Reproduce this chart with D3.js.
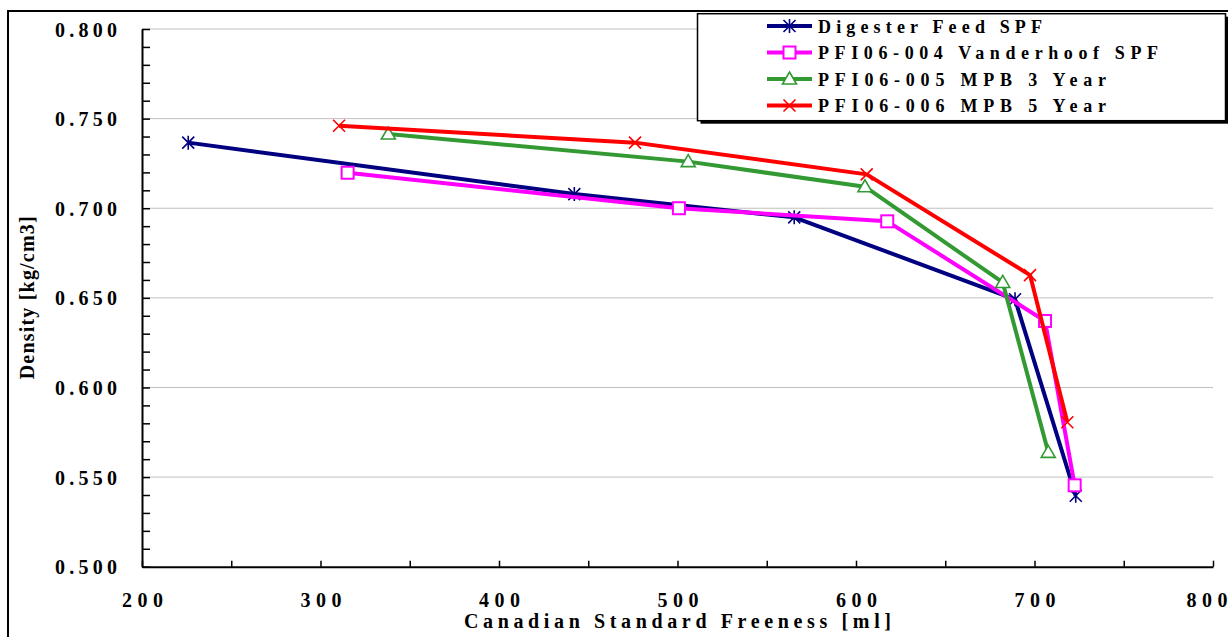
<!DOCTYPE html>
<html>
<head>
<meta charset="utf-8">
<script src="https://cdn.jsdelivr.net/npm/d3@7/dist/d3.min.js"></script>
<style>
  body { margin: 0; background: #fff; }
  svg { display: block; font-family: "Liberation Serif", "Times New Roman", serif; font-weight: bold; }
</style>
</head>
<body>
<div id="chart"></div>
<script>
var W = 1228, H = 637;

// data (freeness in ml, density in kg/cm3)
var seriesNames = ["Digester Feed SPF", "PFI06-004 Vanderhoof SPF", "PFI06-005 MPB 3 Year", "PFI06-006 MPB 5 Year"];
var digesterCsf = [225.9, 442.2, 565.4, 689.1, 723.1];
var digesterDensity = [0.7366, 0.7079, 0.6949, 0.6492, 0.5396];
var vanderhoofCsf = [315.2, 500.8, 617.5, 705.9, 722.5];
var vanderhoofDensity = [0.7198, 0.7000, 0.6927, 0.6371, 0.5454];
var mpb3Csf = [338.0, 506.0, 605.0, 682.2, 707.7];
var mpb3Density = [0.7414, 0.7260, 0.7120, 0.6586, 0.5638];
var mpb5Csf = [310.4, 476.2, 606.0, 697.5, 718.4];
var mpb5Density = [0.7460, 0.7366, 0.7189, 0.6627, 0.5806];
var xTicks = [200, 300, 400, 500, 600, 700, 800];
var yTicks = [0.500, 0.550, 0.600, 0.650, 0.700, 0.750, 0.800];

var colors = ["#000080", "#ff00ff", "#339933", "#ff0000"];
var markers = ["star", "square", "triangle", "cross"];

var series = [
  [digesterCsf, digesterDensity],
  [vanderhoofCsf, vanderhoofDensity],
  [mpb3Csf, mpb3Density],
  [mpb5Csf, mpb5Density]
].map(function(s, i) {
  return {
    name: seriesNames[i], color: colors[i], marker: markers[i],
    points: s[0].map(function(v, j) { return {x: v, y: s[1][j]}; })
  };
});

var x = d3.scaleLinear().domain([200, 800]).range([142, 1213]);
var y = d3.scaleLinear().domain([0.5, 0.8]).range([566.7, 29]);

var svg = d3.select("#chart").append("svg")
    .attr("width", W)
    .attr("height", H);

svg.append("rect").attr("width", W).attr("height", H).attr("fill", "#fff");

// outer chart frame (only left and top edges are inside the picture)
svg.append("rect")
    .attr("x", 8).attr("y", 11)
    .attr("width", 1250).attr("height", 660)
    .attr("fill", "none").attr("stroke", "#000").attr("stroke-width", 2);

// gridlines
svg.append("g").selectAll("line")
    .data(yTicks.filter(function(d) { return d > 0.5; }))
  .enter().append("line")
    .attr("x1", x(200)).attr("x2", x(800))
    .attr("y1", function(d) { return y(d); })
    .attr("y2", function(d) { return y(d); })
    .attr("stroke", "#c0c0c0").attr("stroke-width", 1);

// y axis: minor ticks every 0.01, pointing into the plot
var yMinor = d3.range(50, 81).map(function(d) { return d / 100; });
svg.append("g")
    .attr("transform", "translate(" + x(200) + ",0)")
    .call(d3.axisRight(y).tickValues(yMinor).tickSize(8).tickSizeOuter(0).tickFormat(""))
    .call(function(g) {
      g.select(".domain").attr("stroke-width", 2);
      g.selectAll(".tick line").attr("stroke-width", 1.5);
    });

var yLab = svg.append("g")
    .attr("transform", "translate(" + x(200) + ",0)")
    .call(d3.axisLeft(y).tickValues(yTicks).tickSize(0).tickFormat(d3.format(".3f")));
yLab.select(".domain").remove();
yLab.selectAll("text")
    .attr("x", 117 - x(200))
    .attr("dy", 7)
    .attr("text-anchor", "end")
    .attr("font-family", "Liberation Serif, Times New Roman, serif")
    .attr("font-weight", "bold")
    .attr("font-size", 20)
    .attr("fill", "#000")
    .attr("textLength", 62)
    .attr("lengthAdjust", "spacing");

// x axis: ticks every 50, pointing up
svg.append("g")
    .attr("transform", "translate(0," + y(0.5) + ")")
    .call(d3.axisTop(x).tickValues(d3.range(200, 801, 50)).tickSize(6).tickSizeOuter(0).tickFormat(""))
    .call(function(g) {
      g.select(".domain").attr("stroke-width", 2);
      g.selectAll(".tick line").attr("stroke-width", 1.5);
    });

var xLab = svg.append("g")
    .attr("transform", "translate(0," + y(0.5) + ")")
    .call(d3.axisBottom(x).tickValues(xTicks).tickSize(0).tickFormat(d3.format("d")));
xLab.select(".domain").remove();
xLab.selectAll("text")
    .attr("y", 40)
    .attr("dy", 0)
    .attr("font-family", "Liberation Serif, Times New Roman, serif")
    .attr("font-weight", "bold")
    .attr("font-size", 20)
    .attr("fill", "#000")
    .attr("textLength", 41)
    .attr("lengthAdjust", "spacing");
// last label sits at the right edge; keep it inside the picture
xLab.selectAll(".tick").filter(function(d) { return d === 800; }).select("text")
    .attr("text-anchor", "end")
    .attr("x", 1227 - x(800));

// axis titles
svg.append("text")
    .attr("x", x(500)).attr("y", 628)
    .attr("text-anchor", "middle")
    .attr("font-size", 20)
    .attr("textLength", 427)
    .attr("lengthAdjust", "spacing")
    .text("Canadian Standard Freeness  [ml]");

svg.append("text")
    .attr("transform", "translate(34," + y(0.65) + ") rotate(-90)")
    .attr("text-anchor", "middle")
    .attr("font-size", 20)
    .attr("textLength", 163)
    .attr("lengthAdjust", "spacing")
    .text("Density  [kg/cm3]");

// markers
function drawMarker(g, type, color) {
  var s = 6;
  if (type === "star") {
    g.append("path")
        .attr("d", "M" + (-s) + "," + (-s) + "L" + s + "," + s + "M" + (-s) + "," + s + "L" + s + "," + (-s) + "M0," + (-s - 1) + "L0," + (s + 1))
        .attr("stroke", color).attr("stroke-width", 1.6).attr("fill", "none");
  } else if (type === "cross") {
    g.append("path")
        .attr("d", "M" + (-s) + "," + (-s) + "L" + s + "," + s + "M" + (-s) + "," + s + "L" + s + "," + (-s))
        .attr("stroke", color).attr("stroke-width", 1.6).attr("fill", "none");
  } else if (type === "square") {
    g.append("rect")
        .attr("x", -s).attr("y", -s).attr("width", 2 * s).attr("height", 2 * s)
        .attr("fill", "#fff").attr("stroke", color).attr("stroke-width", 2);
  } else if (type === "triangle") {
    g.append("path")
        .attr("d", "M0," + (-s - 1) + "L" + (s + 1) + "," + (s - 1) + "L" + (-s - 1) + "," + (s - 1) + "Z")
        .attr("fill", "#fff").attr("stroke", color).attr("stroke-width", 1.6);
  }
}

var line = d3.line()
    .x(function(d) { return x(d.x); })
    .y(function(d) { return y(d.y); });

var sg = svg.selectAll("g.series")
    .data(series)
  .enter().append("g")
    .attr("class", "series");

sg.append("path")
    .attr("d", function(d) { return line(d.points); })
    .attr("fill", "none")
    .attr("stroke", function(d) { return d.color; })
    .attr("stroke-width", 4)
    .attr("stroke-linejoin", "round");

sg.each(function(d) {
  var g = d3.select(this);
  d.points.forEach(function(p) {
    drawMarker(g.append("g").attr("transform", "translate(" + x(p.x) + "," + y(p.y) + ")"), d.marker, d.color);
  });
});

// legend
var legendWidths = [224, 340, 288, 288];
var legend = svg.append("g");
legend.append("rect")
    .attr("x", 700.5).attr("y", 16.7)
    .attr("width", 528).attr("height", 107)
    .attr("fill", "#000");
legend.append("rect")
    .attr("x", 697.5).attr("y", 13.7)
    .attr("width", 528).attr("height", 107)
    .attr("fill", "#fff").attr("stroke", "#000").attr("stroke-width", 1.5);

var items = legend.selectAll("g.item")
    .data(series)
  .enter().append("g")
    .attr("class", "item")
    .attr("transform", function(d, i) { return "translate(0," + (26 + i * 26.5) + ")"; });

items.append("line")
    .attr("x1", 767).attr("x2", 812)
    .attr("stroke", function(d) { return d.color; })
    .attr("stroke-width", 4);
items.each(function(d) {
  drawMarker(d3.select(this).append("g").attr("transform", "translate(789.5,0)"), d.marker, d.color);
});
items.append("text")
    .attr("x", 818)
    .attr("y", 6.5)
    .attr("font-size", 18)
    .attr("textLength", function(d, i) { return legendWidths[i]; })
    .attr("lengthAdjust", "spacing")
    .text(function(d) { return d.name; });
</script>
</body>
</html>
